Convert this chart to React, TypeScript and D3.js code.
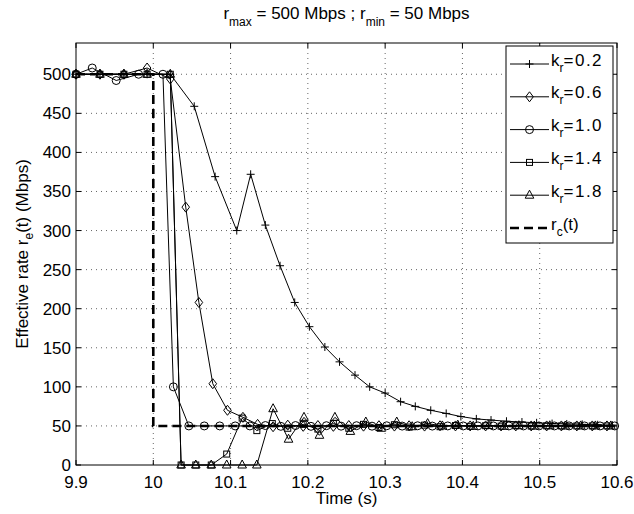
import React from "react";
import * as d3 from "d3";

const W = 634, H = 514;
const M = { left: 76, right: 617, top: 43, bottom: 465 };

const xTicks = [9.9, 10.0, 10.1, 10.2, 10.3, 10.4, 10.5, 10.6];
const xTickLabels = ["9.9", "10", "10.1", "10.2", "10.3", "10.4", "10.5", "10.6"];
const yTicks = [0, 50, 100, 150, 200, 250, 300, 350, 400, 450, 500];

// k_r = 0.2 (plus)
const tK02 = [9.9, 9.931, 9.962, 9.992, 10.022, 10.053, 10.08, 10.108, 10.126, 10.145, 10.164, 10.183, 10.202, 10.222, 10.241, 10.261, 10.28, 10.3, 10.32, 10.339, 10.359, 10.379, 10.398, 10.418, 10.437, 10.457, 10.477, 10.496, 10.516, 10.535, 10.555, 10.575, 10.594];
const vK02 = [500, 500, 500, 500, 500, 459, 369, 300, 372, 307, 255, 208, 177, 151, 132, 115, 100, 92, 81, 75, 70, 66, 62, 59, 57.5, 56, 55, 54, 53, 52.5, 52, 51.5, 51];

// k_r = 0.6 (diamond)
const tK06 = [9.9, 9.931, 9.962, 9.992, 10.022, 10.042, 10.059, 10.077, 10.096, 10.116, 10.135, 10.155, 10.174, 10.194, 10.213, 10.233, 10.253, 10.272, 10.292, 10.312, 10.331, 10.351, 10.371, 10.391, 10.41, 10.43, 10.45, 10.469, 10.489, 10.509, 10.528, 10.548, 10.568, 10.587];
const vK06 = [500, 500, 500, 508, 494, 330, 208, 104, 70, 61, 52, 49, 51, 49.5, 50.5, 49.5, 50.5, 49.7, 50.3, 49.8, 50.2, 49.8, 50.2, 50, 50, 50, 50, 50, 50, 50, 50, 50, 50, 50];

// k_r = 1.0 (circle)
const tK10 = [9.9, 9.921, 9.952, 9.981, 10.0125, 10.026, 10.046, 10.066, 10.086, 10.106, 10.125, 10.145, 10.165, 10.184, 10.204, 10.224, 10.243, 10.263, 10.283, 10.302, 10.322, 10.342, 10.361, 10.381, 10.401, 10.42, 10.44, 10.46, 10.479, 10.499, 10.519, 10.538, 10.558, 10.578, 10.597];
const vK10 = [500, 508, 492, 500, 500, 100, 50, 50, 50, 50, 50, 50.5, 49.5, 50.5, 49.5, 50.3, 49.7, 50.3, 49.7, 50.2, 49.8, 50.2, 49.8, 50, 50, 50, 50, 50, 50, 50, 50, 50, 50, 50, 50];

// k_r = 1.4 (square)
const tK14 = [9.9, 9.931, 9.962, 9.992, 10.022, 10.036, 10.055, 10.075, 10.095, 10.115, 10.134, 10.154, 10.174, 10.194, 10.213, 10.233, 10.253, 10.272, 10.292, 10.312, 10.331, 10.351, 10.371, 10.391, 10.41, 10.43, 10.45, 10.469, 10.489, 10.509, 10.528, 10.548, 10.568, 10.587];
const vK14 = [500, 500, 500, 500, 500, 0, 0, 0, 14, 60, 44, 53, 47, 52, 46, 53, 47, 52, 48, 51.5, 48.5, 51, 49, 50.5, 49.5, 50.3, 49.7, 50.2, 49.8, 50.1, 50, 50, 50, 50];

// k_r = 1.8 (triangle)
const tK18 = [9.9, 9.931, 9.962, 9.992, 10.022, 10.036, 10.055, 10.075, 10.095, 10.115, 10.134, 10.155, 10.175, 10.195, 10.215, 10.235, 10.255, 10.275, 10.295, 10.315, 10.335, 10.355, 10.374, 10.394, 10.414, 10.434, 10.454, 10.473, 10.493, 10.513, 10.533, 10.553, 10.572, 10.592];
const vK18 = [500, 500, 500, 500, 500, 0, 0, 0, 0, 0, 0, 72, 33, 61, 38, 61, 43, 55, 47, 55, 49, 53, 50, 51, 49.5, 50.5, 49.5, 50.3, 49.8, 50.2, 49.9, 50, 50, 50];

// r_c(t) reference
const tRc = [9.9, 10.0, 10.0, 10.6];
const vRc = [500, 500, 50, 50];

const seriesNames = ["0.2", "0.6", "1.0", "1.4", "1.8"];
const seriesMarkers = ["plus", "diamond", "circle", "square", "triangle"];

const x = d3.scaleLinear().domain([9.9, 10.6]).range([M.left, M.right]);
const y = d3.scaleLinear().domain([0, 540]).range([M.bottom, M.top]);

const FONT = "'Liberation Sans', Arial, Helvetica, sans-serif";
const FS = 17;
const SUB = 12;

function Marker({ type, cx, cy }: { type: string; cx: number; cy: number }) {
  const s = { fill: "none", stroke: "black", strokeWidth: 1 } as const;
  if (type === "plus")
    return <path d={`M${cx - 4},${cy}H${cx + 4}M${cx},${cy - 4}V${cy + 4}`} stroke="black" strokeWidth={1} fill="none" />;
  if (type === "diamond")
    return <path d={`M${cx},${cy - 5}L${cx + 3.8},${cy}L${cx},${cy + 5}L${cx - 3.8},${cy}Z`} {...s} />;
  if (type === "circle") return <circle cx={cx} cy={cy} r={4} {...s} />;
  if (type === "square") return <rect x={cx - 3} y={cy - 3} width={6} height={6} {...s} />;
  return <path d={`M${cx},${cy - 5}L${cx + 4.3},${cy + 3}L${cx - 4.3},${cy + 3}Z`} {...s} />;
}

export default function App() {
  const series = [
    { t: tK02, v: vK02 },
    { t: tK06, v: vK06 },
    { t: tK10, v: vK10 },
    { t: tK14, v: vK14 },
    { t: tK18, v: vK18 },
  ];
  const line = d3
    .line<[number, number]>()
    .x((d) => x(d[0]))
    .y((d) => y(d[1]));

  const legendX0 = 506, legendY0 = 46, legendW = 107, legendH = 197;
  const rowH = 32.8;

  return (
    <svg width={W} height={H} style={{ position: "absolute", left: 0, top: 0, background: "white" }} fontFamily={FONT}>
      <rect x={0} y={0} width={W} height={H} fill="white" />
      {/* grid */}
      <g stroke="#666" strokeWidth={1} strokeDasharray="1 4">
        {xTicks.slice(1, -1).map((t) => (
          <line key={"gx" + t} x1={x(t)} x2={x(t)} y1={M.top} y2={M.bottom} />
        ))}
        {yTicks.slice(1).map((v) => (
          <line key={"gy" + v} x1={M.left} x2={M.right} y1={y(v)} y2={y(v)} />
        ))}
      </g>
      {/* r_c dashed */}
      <path
        d={line(tRc.map((t, i) => [t, vRc[i]]) as [number, number][]) || ""}
        fill="none"
        stroke="black"
        strokeWidth={2.6}
        strokeDasharray="9 5"
      />
      {/* series */}
      {series.map((s, si) => (
        <g key={si}>
          <path
            d={line(s.t.map((t, i) => [t, s.v[i]]) as [number, number][]) || ""}
            fill="none"
            stroke="black"
            strokeWidth={1}
          />
          {s.t.map((t, i) => (
            <Marker key={i} type={seriesMarkers[si]} cx={x(t)} cy={y(s.v[i])} />
          ))}
        </g>
      ))}
      {/* axes box */}
      <rect x={M.left} y={M.top} width={M.right - M.left} height={M.bottom - M.top} fill="none" stroke="black" strokeWidth={1} />
      {/* ticks */}
      <g stroke="black" strokeWidth={1}>
        {xTicks.map((t) => (
          <g key={"tx" + t}>
            <line x1={x(t)} x2={x(t)} y1={M.bottom} y2={M.bottom - 5} />
            <line x1={x(t)} x2={x(t)} y1={M.top} y2={M.top + 5} />
          </g>
        ))}
        {yTicks.map((v) => (
          <g key={"ty" + v}>
            <line x1={M.left} x2={M.left + 5} y1={y(v)} y2={y(v)} />
            <line x1={M.right} x2={M.right - 5} y1={y(v)} y2={y(v)} />
          </g>
        ))}
      </g>
      {/* tick labels */}
      <g fontSize={FS} fill="black">
        {xTicks.map((t, i) => (
          <text key={"lx" + t} x={x(t)} y={488} textAnchor="middle">
            {xTickLabels[i]}
          </text>
        ))}
        {yTicks.map((v) => (
          <text key={"ly" + v} x={71} y={y(v) + 6} textAnchor="end">
            {v}
          </text>
        ))}
      </g>
      {/* axis labels */}
      <text x={(M.left + M.right) / 2} y={504} textAnchor="middle" fontSize={FS}>
        Time (s)
      </text>
      <text transform={`translate(28,${(M.top + M.bottom) / 2}) rotate(-90)`} textAnchor="middle" fontSize={FS}>
        Effective rate r<tspan fontSize={SUB} dy={5}>e</tspan>
        <tspan dy={-5}>(t) (Mbps)</tspan>
      </text>
      {/* title */}
      <text x={(M.left + M.right) / 2} y={19} textAnchor="middle" fontSize={FS}>
        r<tspan fontSize={SUB} dy={7}>max</tspan>
        <tspan dy={-7}> = 500 Mbps ; r</tspan>
        <tspan fontSize={SUB} dy={7}>min</tspan>
        <tspan dy={-7}> = 50 Mbps</tspan>
      </text>
      {/* legend */}
      <rect x={legendX0} y={legendY0} width={legendW} height={legendH} fill="white" stroke="black" strokeWidth={1} />
      {seriesNames.map((n, i) => {
        const cy = legendY0 + 18 + i * rowH;
        return (
          <g key={"lg" + i}>
            <line x1={510} x2={549} y1={cy} y2={cy} stroke="black" strokeWidth={1} />
            <Marker type={seriesMarkers[i]} cx={529.5} cy={cy} />
            <text x={551} y={cy + 1.5} fontSize={FS}>
              k<tspan fontSize={SUB} dy={6}>r</tspan>
              <tspan dy={-6} letterSpacing={1.5}>={n}</tspan>
            </text>
          </g>
        );
      })}
      {(() => {
        const cy = legendY0 + 18 + 5 * rowH;
        return (
          <g>
            <line x1={510} x2={549} y1={cy} y2={cy} stroke="black" strokeWidth={2.6} strokeDasharray="9 5" />
            <text x={551} y={cy + 1.5} fontSize={FS}>
              r<tspan fontSize={SUB} dy={6}>c</tspan>
              <tspan dy={-6}>(t)</tspan>
            </text>
          </g>
        );
      })()}
    </svg>
  );
}
